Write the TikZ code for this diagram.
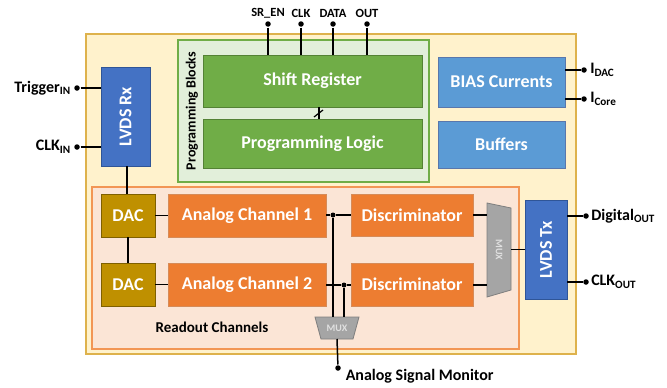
\documentclass[tikz,border=0pt]{standalone}
\usepackage{fontspec}
\setmainfont{Carlito}
\usetikzlibrary{positioning}

\begin{document}
\begin{tikzpicture}[x=1pt, y=-1pt, line width=1.5pt]

    % style
    \definecolor{chipyellow}{RGB}{255, 242, 204}
    \definecolor{chipgold}{RGB}{222, 178, 76}
    \definecolor{proggreen}{RGB}{226, 239, 218}
    \definecolor{darkgreen}{RGB}{112, 173, 71}
    \definecolor{edgegreen}{RGB}{84, 130, 53}
    \definecolor{lvdsblue}{RGB}{68, 114, 196}
    \definecolor{biasblue}{RGB}{91, 155, 213}
    \definecolor{edgeblue}{RGB}{47, 85, 151}
    \definecolor{readpeach}{RGB}{251, 229, 214}
    \definecolor{readedge}{RGB}{242, 150, 85}
    \definecolor{dacgold}{RGB}{191, 144, 0}
    \definecolor{dacedge}{RGB}{127, 96, 0}
    \definecolor{chanorange}{RGB}{237, 125, 49}
    \definecolor{chanedge}{RGB}{197, 90, 17}
    \definecolor{muxgray}{RGB}{165, 165, 165}
    \definecolor{muxedge}{RGB}{127, 127, 127}
    \tikzset{
        blk/.style={rectangle, draw, line width=0.8pt, text=white, inner sep=0pt, font=\fontsize{18}{20}\selectfont\bfseries},
        greenblk/.style={blk, fill=darkgreen, draw=edgegreen},
        lvdsblk/.style={blk, fill=lvdsblue, draw=edgeblue},
        biasblk/.style={blk, fill=biasblue, draw=edgeblue!80},
        dacblk/.style={blk, fill=dacgold, draw=dacedge},
        chanblk/.style={blk, fill=chanorange, draw=chanedge!70},
        pindot/.style={circle, fill=black, inner sep=0pt, minimum size=5.5pt},
        joint/.style={circle, fill=black, inner sep=0pt, minimum size=5pt},
        pinlabel/.style={inner sep=1pt, font=\fontsize{16}{18}\selectfont\bfseries},
        toplabel/.style={inner sep=1pt, font=\fontsize{12.5}{14}\selectfont\bfseries},
        muxlabel/.style={text=white!88!black, inner sep=0pt, font=\fontsize{10}{11}\selectfont\bfseries}
    }

    \useasboundingbox (0,0) rectangle (667,388);

    % chip outline and block groups
    \draw [fill=chipyellow, draw=chipgold, line width=1.2pt] (86,34) rectangle (576,354);
    \draw [fill=proggreen, draw=darkgreen, line width=1.2pt] (178,40) rectangle (429,182);
    \draw [fill=readpeach, draw=readedge, line width=1.2pt] (92,187) rectangle (519,349);
    \node [rotate=90, inner sep=0pt, font=\fontsize{14}{16}\selectfont\bfseries] (progtitle) at (192,111) {Programming Blocks};
    \node [inner sep=0pt, font=\fontsize{15}{17}\selectfont\bfseries] (readtitle) at (212,327) {Readout Channels};

    % programming blocks
    \node [greenblk, minimum width=219pt, minimum height=52pt] (shiftreg) at (312.5,81) {Shift Register};
    \node [greenblk, minimum width=219pt, minimum height=49pt] (proglogic) at (312.5,143.5) {Programming Logic};
    \draw [line width=1.2pt] (proglogic.north -| 319,0) -- (shiftreg.south -| 319,0);
    \draw [line width=1.2pt] (314,117) -- (323,110); % bus slash

    % top pins
    \foreach \x/\name/\txt in {268/sren/SR\_EN, 301/clk/CLK, 333/data/DATA, 367/out/OUT}
    {
        \node [pindot] (\name dot) at (\x,24) {};
        \node [toplabel, above=1pt of \name dot] (\name lbl) {\txt};
        \draw (\name dot) -- (\name dot |- shiftreg.north);
    }

    % bias and buffers
    \node [biasblk, minimum width=127pt, minimum height=50pt] (bias) at (501.5,82) {BIAS Currents};
    \node [biasblk, minimum width=127pt, minimum height=47pt] (buffers) at (501.5,144.5) {Buffers};
    \node [pindot] (idacdot) at (584,70) {};
    \node [pindot] (icoredot) at (584,99) {};
    \node [pinlabel, right=1pt of idacdot] (idaclbl) {I\textsubscript{DAC}};
    \node [pinlabel, right=1pt of icoredot] (icorelbl) {I\textsubscript{Core}};
    \draw (bias.east |- idacdot) -- (idacdot);
    \draw (bias.east |- icoredot) -- (icoredot);

    % LVDS receiver
    \node [lvdsblk, minimum width=49pt, minimum height=99pt] (lvdsrx) at (125.5,116.5) {};
    \node [rotate=90, text=white, inner sep=0pt, font=\fontsize{18}{20}\selectfont\bfseries] (rxlbl) at (lvdsrx.center) {LVDS Rx};
    \node [pindot] (trigdot) at (77,88) {};
    \node [pindot] (clkindot) at (77,147) {};
    \node [pinlabel, left=1pt of trigdot] (triglbl) {Trigger\textsubscript{IN}};
    \node [pinlabel, left=1pt of clkindot] (clkinlbl) {CLK\textsubscript{IN}};
    \draw (trigdot) -- (lvdsrx.west |- trigdot);
    \draw (clkindot) -- (lvdsrx.west |- clkindot);

    % readout channels
    \node [dacblk, minimum width=54pt, minimum height=43pt] (dac1) at (128,215.5) {DAC};
    \node [dacblk, minimum width=54pt, minimum height=43pt] (dac2) at (128,284.5) {DAC};
    \node [chanblk, minimum width=158pt, minimum height=43pt] (chan1) at (247,215.5) {Analog Channel 1};
    \node [chanblk, minimum width=158pt, minimum height=43pt] (chan2) at (247,284.5) {Analog Channel 2};
    \node [chanblk, minimum width=122pt, minimum height=42pt] (disc1) at (412,215) {Discriminator};
    \node [chanblk, minimum width=122pt, minimum height=43pt] (disc2) at (412,284.5) {Discriminator};
    \draw (lvdsrx.south -| 127,0) -- (dac1.north -| 127,0);
    \draw (dac1) -- (dac2);
    \draw (dac1) -- (chan1);
    \draw (dac2) -- (chan2);
    \node [joint] (tap1) at (333,215) {};
    \node [joint] (tap2) at (344,285) {};
    \draw (chan1.east |- tap1) -- (tap1) -- (disc1.west |- tap1);
    \draw (chan2.east |- tap2) -- (tap2) -- (disc2.west |- tap2);

    % output multiplexer
    \coordinate (bigmuxtl) at (487,203);
    \coordinate (bigmuxtr) at (511,208);
    \coordinate (bigmuxbr) at (511,290);
    \coordinate (bigmuxbl) at (487,297);
    \filldraw [fill=muxgray, draw=muxedge, line width=0.8pt] (bigmuxtl) -- (bigmuxtr) -- (bigmuxbr) -- (bigmuxbl) -- cycle;
    \node [muxlabel, rotate=-90] (bigmux) at (499,250) {MUX};
    \draw (disc1.east) -- (bigmuxtl |- disc1.east);
    \draw (disc2.east |- tap2) -- (bigmuxtl |- tap2);

    % LVDS transmitter
    \node [lvdsblk, minimum width=42pt, minimum height=99pt] (lvdstx) at (546,249.5) {};
    \node [rotate=90, text=white, inner sep=0pt, font=\fontsize{18}{20}\selectfont\bfseries] (txlbl) at (lvdstx.center) {LVDS Tx};
    \draw (bigmuxtr |- lvdstx.west) -- (lvdstx.west);
    \node [pindot] (digdot) at (586,216) {};
    \node [pindot] (clkoutdot) at (586,282) {};
    \node [pinlabel, right=0pt of digdot] (diglbl) {Digital\textsubscript{OUT}};
    \node [pinlabel, right=0pt of clkoutdot] (clkoutlbl) {CLK\textsubscript{OUT}};
    \draw (lvdstx.east |- digdot) -- (digdot);
    \draw (lvdstx.east |- clkoutdot) -- (clkoutdot);

    % analog monitor multiplexer
    \coordinate (smallmuxtl) at (315,317);
    \coordinate (smallmuxtr) at (359,317);
    \coordinate (smallmuxbr) at (353,339);
    \coordinate (smallmuxbl) at (321,339);
    \filldraw [fill=muxgray, draw=muxedge, line width=0.8pt] (smallmuxtl) -- (smallmuxtr) -- (smallmuxbr) -- (smallmuxbl) -- cycle;
    \node [muxlabel] (smallmux) at (337,328) {MUX};
    \draw (tap1) -- (tap1 |- smallmuxtl);
    \draw (tap2) -- (tap2 |- smallmuxtl);
    \node [pindot] (mondot) at (338,368) {};
    \node [pinlabel, anchor=west] (monlbl) at (344,376) {Analog Signal Monitor};
    \draw (smallmux.south |- smallmuxbl) -- (mondot);

\end{tikzpicture}
\end{document}
